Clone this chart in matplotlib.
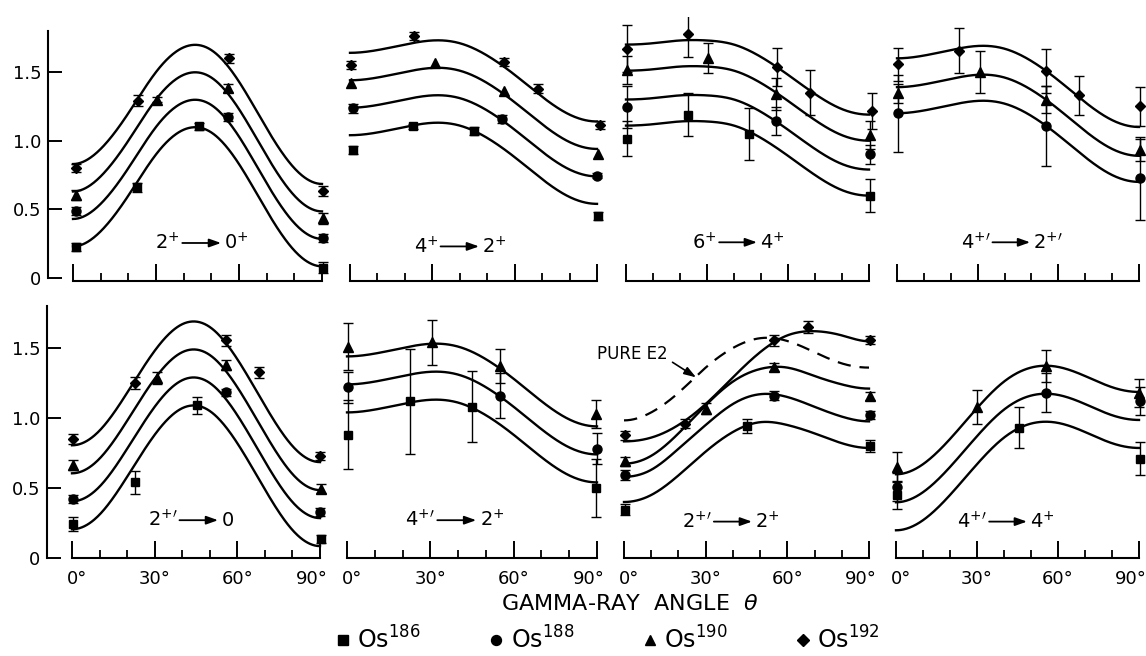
import numpy as np
import matplotlib
matplotlib.use("Agg")
import matplotlib.pyplot as plt
from matplotlib.transforms import ScaledTranslation

plt.rcParams["font.family"] = ["DejaVu Sans"]
plt.rcParams["mathtext.fontset"] = "dejavusans"

ISOTOPES = ["186", "188", "190", "192"]
MARKERS = {"186": "s", "188": "o", "190": "^", "192": "D"}
MSIZE = {"186": 6, "188": 6.5, "190": 7, "192": 5.5}
FIT_ANGLES = [0, 10, 20, 30, 40, 50, 60, 70, 80, 90]

# ---- measured points: isotope -> (angle [deg], W(theta), error) ----
pts_t1 = {
    "186": ([1, 23, 45.5, 90.5], [0.225, 0.66, 1.105, 0.075], [0.03, 0.03, 0.025, 0.04]),
    "188": ([1, 56, 90.5], [0.49, 1.17, 0.29], [0.03, 0.03, 0.03]),
    "190": ([1, 30.5, 56, 90.5], [0.605, 1.30, 1.385, 0.435], [0.035, 0.02, 0.03, 0.04]),
    "192": ([1, 23.5, 56.5, 90.5], [0.80, 1.29, 1.60, 0.635], [0.03, 0.04, 0.035, 0.035]),
}
pts_t2 = {
    "186": ([1, 23, 45, 90.5], [0.935, 1.105, 1.07, 0.45], [0.03, 0.02, 0.03, 0.03]),
    "188": ([1, 55.5, 90], [1.235, 1.16, 0.745], [0.03, 0.03, 0.02]),
    "190": ([0.5, 31, 56, 90.5], [1.42, 1.565, 1.36, 0.90], [0, 0, 0, 0]),
    "192": ([0.5, 23.5, 56, 68.5, 91], [1.55, 1.76, 1.575, 1.38, 1.115], [0.03, 0.03, 0.03, 0.03, 0.03]),
}
pts_t3 = {
    "186": ([0.5, 23, 45.5, 90.5], [1.015, 1.19, 1.05, 0.60], [0.125, 0.155, 0.19, 0.12]),
    "188": ([0.5, 55.5, 90.5], [1.245, 1.145, 0.90], [0.15, 0.10, 0.07]),
    "190": ([0.5, 30.5, 55.5, 90.5], [1.515, 1.605, 1.34, 1.04], [0.10, 0.11, 0.12, 0.10]),
    "192": ([0.5, 23, 56, 68, 91], [1.67, 1.775, 1.535, 1.35, 1.215], [0.17, 0.165, 0.14, 0.165, 0.13]),
}
pts_t4 = {
    "188": ([0.5, 55.5, 90.5], [1.20, 1.105, 0.725], [0.28, 0.29, 0.30]),
    "190": ([0.5, 31, 55.5, 90.5], [1.345, 1.50, 1.30, 0.93], [0.07, 0.15, 0.10, 0.08]),
    "192": ([0.5, 23, 55.5, 67.5, 90.5], [1.555, 1.655, 1.51, 1.33, 1.25], [0.12, 0.165, 0.16, 0.14, 0.14]),
}
pts_b1 = {
    "186": ([0.5, 23, 45.5, 90.5], [0.245, 0.54, 1.09, 0.135], [0.05, 0.08, 0.06, 0.03]),
    "188": ([0.5, 56, 90], [0.42, 1.185, 0.33], [0.03, 0.025, 0.03]),
    "190": ([0.5, 31, 56, 90.5], [0.665, 1.285, 1.38, 0.495], [0.035, 0.04, 0.035, 0.03]),
    "192": ([0.5, 23, 56, 68, 90], [0.85, 1.25, 1.555, 1.325, 0.73], [0.035, 0.04, 0.04, 0.04, 0.03]),
}
pts_b2 = {
    "186": ([0.5, 22.5, 45, 89.5], [0.88, 1.12, 1.08, 0.50], [0.245, 0.375, 0.255, 0.21]),
    "188": ([0.5, 55, 90], [1.22, 1.16, 0.78], [0.11, 0.16, 0.11]),
    "190": ([0.5, 30.5, 55, 89.5], [1.51, 1.54, 1.37, 1.025], [0.17, 0.16, 0.12, 0.10]),
}
pts_b3 = {
    "186": ([0.5, 45, 90.5], [0.345, 0.945, 0.80], [0.04, 0.05, 0.04]),
    "188": ([0.5, 55, 90.5], [0.595, 1.16, 1.02], [0.035, 0.03, 0.03]),
    "190": ([0.5, 30, 55, 90.5], [0.69, 1.065, 1.365, 1.155], [0.03, 0.04, 0.03, 0.03]),
    "192": ([0.5, 22.5, 55, 67.5, 90.5], [0.875, 0.96, 1.555, 1.65, 1.555], [0.03, 0.03, 0.04, 0.04, 0.03]),
}
pts_b4 = {
    "186": ([0.5, 45.5, 90.5], [0.45, 0.93, 0.71], [0.10, 0.145, 0.12]),
    "188": ([0.5, 55.5, 90.5], [0.51, 1.18, 1.12], [0.10, 0.14, 0.10]),
    "190": ([0.5, 30, 55.5, 90], [0.65, 1.08, 1.37, 1.175], [0.11, 0.12, 0.115, 0.10]),
}

# ---- fitted correlation curves sampled at FIT_ANGLES ----
fit_t1 = {
    "186": [0.23, 0.34, 0.60, 0.90, 1.08, 1.06, 0.83, 0.49, 0.20, 0.085],
    "188": [0.43, 0.54, 0.80, 1.10, 1.28, 1.26, 1.03, 0.69, 0.40, 0.285],
    "190": [0.63, 0.74, 1.00, 1.30, 1.48, 1.46, 1.23, 0.89, 0.60, 0.485],
    "192": [0.83, 0.94, 1.20, 1.50, 1.68, 1.66, 1.43, 1.09, 0.80, 0.685],
}
fit_t2 = {
    "186": [1.04, 1.06, 1.10, 1.13, 1.11, 1.02, 0.88, 0.72, 0.59, 0.54],
    "188": [1.24, 1.26, 1.30, 1.33, 1.31, 1.22, 1.08, 0.92, 0.79, 0.74],
    "190": [1.44, 1.46, 1.50, 1.53, 1.51, 1.42, 1.28, 1.12, 0.99, 0.94],
    "192": [1.64, 1.66, 1.70, 1.73, 1.71, 1.62, 1.48, 1.32, 1.19, 1.14],
}
fit_t3 = {
    "186": [1.11, 1.12, 1.14, 1.14, 1.11, 1.02, 0.89, 0.75, 0.64, 0.60],
    "188": [1.30, 1.31, 1.33, 1.33, 1.30, 1.21, 1.08, 0.94, 0.83, 0.79],
    "190": [1.51, 1.52, 1.54, 1.54, 1.51, 1.42, 1.29, 1.15, 1.04, 1.00],
    "192": [1.70, 1.71, 1.73, 1.73, 1.70, 1.61, 1.48, 1.34, 1.23, 1.19],
}
fit_t4 = {
    "188": [1.20, 1.22, 1.26, 1.29, 1.27, 1.18, 1.04, 0.88, 0.75, 0.70],
    "190": [1.39, 1.41, 1.45, 1.48, 1.46, 1.37, 1.23, 1.07, 0.94, 0.89],
    "192": [1.60, 1.62, 1.66, 1.69, 1.67, 1.58, 1.44, 1.28, 1.15, 1.10],
}
fit_b1 = {
    "186": [0.205, 0.31, 0.58, 0.88, 1.07, 1.05, 0.82, 0.49, 0.20, 0.085],
    "188": [0.405, 0.51, 0.78, 1.08, 1.27, 1.25, 1.02, 0.69, 0.40, 0.285],
    "190": [0.605, 0.71, 0.98, 1.28, 1.47, 1.45, 1.22, 0.89, 0.60, 0.485],
    "192": [0.805, 0.91, 1.18, 1.48, 1.67, 1.65, 1.42, 1.09, 0.80, 0.685],
}
fit_b2 = {
    "186": [1.04, 1.06, 1.10, 1.13, 1.11, 1.02, 0.88, 0.72, 0.59, 0.54],
    "188": [1.24, 1.26, 1.30, 1.33, 1.31, 1.22, 1.08, 0.92, 0.79, 0.74],
    "190": [1.44, 1.46, 1.50, 1.53, 1.51, 1.42, 1.28, 1.12, 0.99, 0.94],
}
fit_b3 = {
    "186": [0.40, 0.45, 0.59, 0.76, 0.90, 0.97, 0.95, 0.89, 0.82, 0.786],
    "188": [0.58, 0.63, 0.78, 0.95, 1.10, 1.17, 1.15, 1.08, 1.01, 0.976],
    "190": [0.674, 0.73, 0.89, 1.09, 1.26, 1.35, 1.36, 1.30, 1.24, 1.21],
    "192": [0.833, 0.86, 0.95, 1.10, 1.29, 1.47, 1.59, 1.62, 1.59, 1.548],
}
pure_e2_b3 = [0.983, 1.04, 1.18, 1.36, 1.50, 1.57, 1.55, 1.47, 1.39, 1.36]
fit_b4 = {
    "186": [0.198, 0.27, 0.45, 0.67, 0.86, 0.96, 0.965, 0.90, 0.82, 0.786],
    "188": [0.398, 0.47, 0.65, 0.87, 1.06, 1.16, 1.165, 1.10, 1.02, 0.986],
    "190": [0.598, 0.67, 0.85, 1.07, 1.26, 1.36, 1.365, 1.30, 1.22, 1.186],
}

# transition labels: (initial state, final state)
labels_top = [("2$^{+}$", "0$^{+}$"), ("4$^{+}$", "2$^{+}$"),
              ("6$^{+}$", "4$^{+}$"), ("4$^{+\\prime}$", "2$^{+\\prime}$")]
labels_bot = [("2$^{+\\prime}$", "0"), ("4$^{+\\prime}$", "2$^{+}$"),
              ("2$^{+\\prime}$", "2$^{+}$"), ("4$^{+\\prime}$", "4$^{+}$")]
xtick_labels = ["0°", "30°", "60°", "90°"]
ytick_values = [0, 0.5, 1.0, 1.5]
ytick_labels = ["0", "0.5", "1.0", "1.5"]


def clamped_spline(xk, yk, xs):
    """Cubic spline with zero end slopes (curves are flat at 0 and 90 deg)."""
    xk = np.asarray(xk, float)
    yk = np.asarray(yk, float)
    n = len(xk)
    h = np.diff(xk)
    A = np.zeros((n, n))
    r = np.zeros(n)
    A[0, 0], A[0, 1] = 2 * h[0], h[0]
    r[0] = 6 * ((yk[1] - yk[0]) / h[0])
    A[-1, -2], A[-1, -1] = h[-1], 2 * h[-1]
    r[-1] = 6 * (0 - (yk[-1] - yk[-2]) / h[-1])
    for i in range(1, n - 1):
        A[i, i - 1] = h[i - 1]
        A[i, i] = 2 * (h[i - 1] + h[i])
        A[i, i + 1] = h[i]
        r[i] = 6 * ((yk[i + 1] - yk[i]) / h[i] - (yk[i] - yk[i - 1]) / h[i - 1])
    M = np.linalg.solve(A, r)
    idx = np.clip(np.searchsorted(xk, xs) - 1, 0, n - 2)
    x0, x1 = xk[idx], xk[idx + 1]
    hh = x1 - x0
    return (M[idx] * (x1 - xs) ** 3 / (6 * hh) + M[idx + 1] * (xs - x0) ** 3 / (6 * hh)
            + (yk[idx] / hh - M[idx] * hh / 6) * (x1 - xs)
            + (yk[idx + 1] / hh - M[idx + 1] * hh / 6) * (xs - x0))


W, H = 1146, 656
fig = plt.figure(figsize=(W / 100, H / 100), dpi=100)

XLIM = (-12, 93)
YLIM = (-0.12, 1.9)


def make_axes(x0, x90, y0, ppu):
    s = (x90 - x0) / 90.0
    left = x0 - (0 - XLIM[0]) * s
    width = (XLIM[1] - XLIM[0]) * s
    top = y0 - YLIM[1] * ppu
    bottom = y0 - YLIM[0] * ppu
    ax = fig.add_axes([left / W, 1 - bottom / H, width / W, (bottom - top) / H])
    ax.set_xlim(*XLIM)
    ax.set_ylim(*YLIM)
    ax.patch.set_visible(False)
    return ax


def transition_label(ax, xc, y, left, right):
    half = 7.0
    ax.text(xc - half - 0.8, y, left, ha="right", va="center", fontsize=14)
    ax.annotate("", xy=(xc + half, y), xytext=(xc - half, y),
                arrowprops=dict(arrowstyle="-|>,head_length=0.7,head_width=0.25",
                                color="black", lw=1.3, shrinkA=0, shrinkB=0))
    ax.text(xc + half + 1.2, y, right, ha="left", va="center", fontsize=14)


def style_axes(ax, first_col, bottom_row, spine_y):
    for side in ("top", "right"):
        ax.spines[side].set_visible(False)
    ax.spines["bottom"].set_position(("data", spine_y))
    ax.spines["bottom"].set_bounds(0, 90)
    ax.spines["bottom"].set_linewidth(1.5)
    ax.set_xticks([0, 30, 60, 90])
    ax.set_xticks([10, 20, 40, 50, 70, 80], minor=True)
    ax.tick_params(axis="x", which="major", direction="in", length=12, width=1.4,
                   labelsize=13, pad=9, labelbottom=bottom_row)
    ax.tick_params(axis="x", which="minor", direction="in", length=6, width=1.3)
    if bottom_row:
        ax.set_xticklabels(xtick_labels)
        labs = ax.get_xticklabels()
        # nudge end labels apart so neighbouring panels do not collide
        for lab, dx in ((labs[0], 5), (labs[-1], -8)):
            lab.set_transform(lab.get_transform()
                              + ScaledTranslation(dx / 100, 0, fig.dpi_scale_trans))
    if first_col:
        ax.spines["left"].set_position(("data", -9))
        ax.spines["left"].set_bounds(0, 1.8)
        ax.spines["left"].set_linewidth(1.5)
        ax.set_yticks(ytick_values)
        ax.set_yticklabels(ytick_labels)
        ax.tick_params(axis="y", direction="in", length=10, width=1.4,
                       labelsize=13, pad=5)
    else:
        ax.spines["left"].set_visible(False)
        ax.set_yticks([])


def draw_panel(ax, pts, fits):
    xs = np.linspace(0, 90, 300)
    for iso in ISOTOPES:
        if iso in fits:
            ax.plot(xs, clamped_spline(FIT_ANGLES, fits[iso], xs), color="black", lw=1.7)
    handles = {}
    for iso in ISOTOPES:
        if iso not in pts:
            continue
        ang, val, err = (np.asarray(a, float) for a in pts[iso])
        has = err > 0
        if has.any():
            ax.errorbar(ang[has], val[has], yerr=err[has], fmt="none", ecolor="black",
                        elinewidth=1.0, capsize=3.5, capthick=1.0)
        h, = ax.plot(ang, val, linestyle="none", marker=MARKERS[iso],
                     markersize=MSIZE[iso], color="black")
        handles[iso] = h
    return handles


top_cols = [(73, 322), (350, 597), (626, 869), (897, 1139)]
bot_cols = [(72, 320), (347, 597), (624, 869), (896, 1139)]
top_y0, top_ppu = 278, 137.3
bot_y0, bot_ppu = 558, 140.0

top_data = [(pts_t1, fit_t1), (pts_t2, fit_t2), (pts_t3, fit_t3), (pts_t4, fit_t4)]
bot_data = [(pts_b1, fit_b1), (pts_b2, fit_b2), (pts_b3, fit_b3), (pts_b4, fit_b4)]
top_label_pos = [(46.5, 0.255), (40, 0.23), (41.5, 0.26), (42.5, 0.26)]
bot_label_pos = [(46, 0.27), (39.5, 0.27), (40, 0.26), (41.5, 0.26)]

legend_handles = {}
for i, ((x0, x90), (pts, fits)) in enumerate(zip(top_cols, top_data)):
    ax = make_axes(x0, x90, top_y0, top_ppu)
    style_axes(ax, i == 0, False, -0.025)
    legend_handles.update(draw_panel(ax, pts, fits))
    xc, yc = top_label_pos[i]
    transition_label(ax, xc, yc, *labels_top[i])

for i, ((x0, x90), (pts, fits)) in enumerate(zip(bot_cols, bot_data)):
    ax = make_axes(x0, x90, bot_y0, bot_ppu)
    style_axes(ax, i == 0, True, 0.0)
    draw_panel(ax, pts, fits)
    xc, yc = bot_label_pos[i]
    transition_label(ax, xc, yc, *labels_bot[i])
    if i == 2:
        xs = np.linspace(0, 90, 300)
        ax.plot(xs, clamped_spline(FIT_ANGLES, pure_e2_b3, xs), color="black",
                lw=1.6, dashes=(6, 4))
        ax.annotate("PURE E2", xy=(26.5, 1.29), xytext=(-10, 1.46),
                    ha="left", va="center", fontsize=12,
                    arrowprops=dict(arrowstyle="-|>,head_length=0.6,head_width=0.2",
                                    color="black", lw=1.2, shrinkA=2, shrinkB=0,
                                    relpos=(1.0, 0.2)))

fig.text(630 / W, 1 - 604 / H, "GAMMA-RAY  ANGLE  $\\theta$", ha="center",
         va="center", fontsize=16)

fig.legend([legend_handles[k] for k in ISOTOPES],
           ["Os$^{%s}$" % k for k in ISOTOPES],
           loc="center", bbox_to_anchor=(608 / W, 1 - 640 / H), ncol=4,
           frameon=False, fontsize=17, handlelength=0.6, handletextpad=0.3,
           columnspacing=2.9, markerscale=1.1)

fig.savefig("out.png", dpi=100)
